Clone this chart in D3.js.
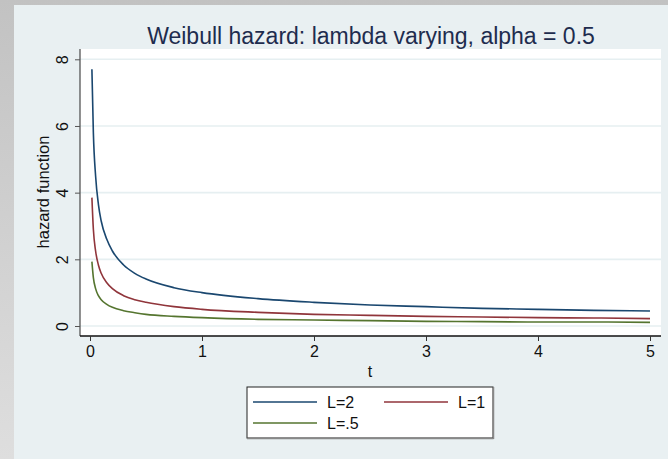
<!DOCTYPE html>
<html><head><meta charset="utf-8">
<script src="https://cdn.jsdelivr.net/npm/d3@7"></script>
<style>body{margin:0;padding:0;background:#fff}svg{display:block}</style>
</head><body><svg id="c" width="668" height="459"></svg>
<script>
const title = "Weibull hazard: lambda varying, alpha = 0.5";
const xTicks = [0,1,2,3,4,5];
const yTicks = [0,2,4,6,8];
const tValues = [0.017,0.03,0.05,0.075,0.1,0.15,0.2,0.3,0.4,0.5,0.75,1,1.5,2,2.5,3,3.5,4,4.5,5];
const hazL2  = [7.7,5.8,4.5,3.65,3.15,2.6,2.25,1.83,1.58,1.41,1.15,1.0,0.82,0.71,0.63,0.58,0.53,0.5,0.47,0.45];
const hazL1  = [3.85,2.9,2.25,1.83,1.58,1.3,1.12,0.91,0.79,0.71,0.58,0.5,0.41,0.35,0.32,0.29,0.27,0.25,0.24,0.22];
const hazL05 = [1.93,1.45,1.12,0.91,0.79,0.65,0.56,0.46,0.4,0.35,0.29,0.25,0.2,0.18,0.16,0.14,0.13,0.12,0.12,0.11];
const seriesNames = ["L=2","L=1","L=.5"];
const seriesColors = ["#1a476f","#90353b","#55752f"];

const svg = d3.select("#c");
const font = "'Liberation Sans', Arial, sans-serif";
const defs = svg.append("defs");
const g1 = defs.append("linearGradient").attr("id","lg").attr("x1",0).attr("y1",0).attr("x2",0).attr("y2",1);
g1.append("stop").attr("offset","0%").attr("stop-color","#c2c2c2");
g1.append("stop").attr("offset","100%").attr("stop-color","#dedede");
svg.append("rect").attr("width",668).attr("height",459).attr("fill","url(#lg)");
svg.append("rect").attr("x",14).attr("y",5).attr("width",654).attr("height",454).attr("fill","#e9f0f2");

const pl = {x0:80, x1:661, y0:49, y1:336};
svg.append("rect").attr("x",pl.x0).attr("y",pl.y0).attr("width",pl.x1-pl.x0).attr("height",pl.y1-pl.y0).attr("fill","#ffffff");

const x = d3.scaleLinear().domain([0,5]).range([90,650]);
const y = d3.scaleLinear().domain([0,8]).range([326,59.3]);

// grid
svg.append("g").selectAll("line").data(yTicks).join("line")
  .attr("x1",pl.x0).attr("x2",pl.x1).attr("y1",d=>y(d)).attr("y2",d=>y(d))
  .attr("stroke","#e6eff1").attr("stroke-width",1.6);

// axes
const ya = svg.append("g").attr("transform",`translate(${pl.x0},0)`)
  .call(d3.axisLeft(y).tickValues(yTicks).tickSize(5).tickPadding(6).tickFormat(d3.format("d")));
ya.select(".domain").attr("d",`M0,${pl.y0}V${pl.y1}`).attr("stroke","#555").attr("stroke-width",1.3);
ya.selectAll(".tick line").attr("stroke","#555");
ya.selectAll(".tick text").attr("font-family",font).attr("font-size",16).attr("fill","#111")
  .attr("text-anchor","middle")
  .attr("transform","translate(-18,0) rotate(-90)").attr("x",0).attr("y",0).attr("dy","0.35em");

const xa = svg.append("g").attr("transform",`translate(0,${pl.y1})`)
  .call(d3.axisBottom(x).tickValues(xTicks).tickSize(5).tickPadding(5).tickFormat(d3.format("d")));
xa.select(".domain").attr("d",`M${pl.x0},0H${pl.x1}`).attr("stroke","#111").attr("stroke-width",1.3);
xa.selectAll(".tick line").attr("stroke","#333");
xa.selectAll(".tick text").attr("font-family",font).attr("font-size",16).attr("fill","#111");

// lines
const allSeries = [hazL2,hazL1,hazL05];
const line = d3.line().x(d=>x(d[0])).y(d=>y(d[1])).curve(d3.curveMonotoneX);
allSeries.forEach((vals,i)=>{
  svg.append("path").datum(tValues.map((t,j)=>[t,vals[j]]))
    .attr("d",line).attr("fill","none").attr("stroke",seriesColors[i]).attr("stroke-width",1.6);
});

// titles
svg.append("text").attr("x",371).attr("y",44).attr("text-anchor","middle")
  .attr("font-family",font).attr("font-size",23).attr("fill","#1e2c4e").text(title);
svg.append("text").attr("x",370).attr("y",377).attr("text-anchor","middle")
  .attr("font-family",font).attr("font-size",16).attr("fill","#111").text("t");
svg.append("text").attr("transform","translate(49,192) rotate(-90)").attr("text-anchor","middle")
  .attr("font-family",font).attr("font-size",16.5).attr("fill","#111").text("hazard function");

// legend
const lg = svg.append("g");
lg.append("rect").attr("x",247).attr("y",387).attr("width",246).attr("height",51)
  .attr("fill","#ffffff").attr("stroke","#222").attr("stroke-width",1);
lg.append("line").attr("x1",247).attr("x2",493.5).attr("y1",438.5).attr("y2",438.5).attr("stroke","#888").attr("stroke-width",1.5);
lg.append("line").attr("x1",493.5).attr("x2",493.5).attr("y1",387).attr("y2",439).attr("stroke","#888").attr("stroke-width",1.5);
const legPos = [[253,402],[384,402],[253,423]];
seriesNames.forEach((n,i)=>{
  const [lx,ly] = legPos[i];
  lg.append("line").attr("x1",lx).attr("x2",lx+64).attr("y1",ly).attr("y2",ly)
    .attr("stroke",seriesColors[i]).attr("stroke-width",1.6);
  lg.append("text").attr("x",lx+74).attr("y",ly).attr("dy","0.35em")
    .attr("font-family",font).attr("font-size",16).attr("fill","#111").text(n);
});
</script></body></html>
